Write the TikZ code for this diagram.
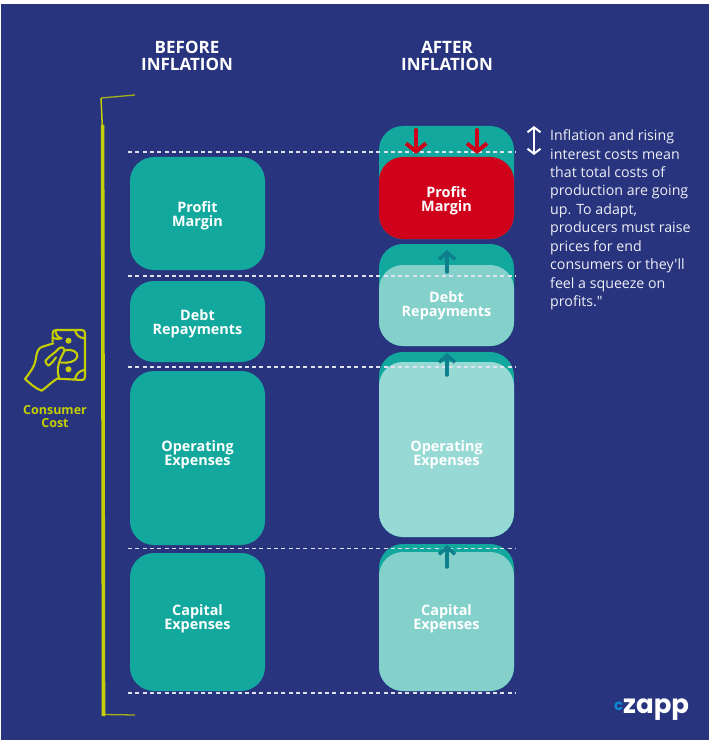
\documentclass[tikz,border=0pt]{standalone}
\usepackage{fontspec}
\usepackage{xcolor}
\usepackage{tikz}
\usetikzlibrary{arrows.meta}
\setmainfont{Open Sans}
\newfontfamily\notefont{Open Sans}
\newfontfamily\logofont{Poppins}
\definecolor{navy}{HTML}{29347F}
\definecolor{teal1}{HTML}{12A89D}
\definecolor{tealfront}{HTML}{84D1CB}
\definecolor{tealpale}{HTML}{97DAD5}
\definecolor{tealarrow}{HTML}{0E7F8C}
\definecolor{redbox}{HTML}{D0021B}
\definecolor{lime}{HTML}{C4CE00}
\tikzset{
  costbox/.style={fill=teal1, rounded corners=24pt, minimum width=135pt, inner sep=0pt},
  boxlabel/.style={text=white, align=center, inner sep=0pt, font=\bfseries\fontsize{14.4}{14}\selectfont},
  heading/.style={text=white, align=center, font=\bfseries\fontsize{17}{17}\selectfont},
  level/.style={white!85!navy, line width=1.5pt, dash pattern=on 4pt off 3.3pt},
  uparrow/.style={tealarrow, line width=3.5pt, line cap=round, -{Straight Barb[length=7pt,width=16pt]}},
  downarrow/.style={redbox, line width=4pt, line cap=round, -{Straight Barb[length=8pt,width=20pt]}},
}
\begin{document}
\begin{tikzpicture}[x=1pt,y=-1pt]
\useasboundingbox (0,0) rectangle (711,743);
\fill[navy] (1,4) rectangle (709,740);

    \node[heading] (before) at (187,56) {BEFORE\\INFLATION};
    \node[heading] (after) at (447,56) {AFTER\\INFLATION};

    % left column
    \node[costbox, minimum height=113pt] (profit) at (197.5,213.5) {};
    \node[costbox, minimum height=81pt] (debt) at (197.5,321.5) {};
    \node[costbox, minimum height=174pt] (operating) at (197.5,458) {};
    \node[costbox, minimum height=138pt] (capital) at (197.5,622) {};

    % right column, the old size behind
    \node[costbox, minimum height=113pt] (profitold) at (446.5,182.5) {};
    \node[costbox, minimum height=102pt] (debtold) at (446.5,295) {};
    \node[costbox, minimum height=185pt] (operatingold) at (446.5,444.5) {};
    \node[costbox, minimum height=147pt] (capitalold) at (446.5,617.5) {};

    % reference levels
    \coordinate (l1a) at (128,152); \coordinate (l1b) at (515,152);
    \coordinate (l2a) at (128,276); \coordinate (l2b) at (515,276);
    \coordinate (l3a) at (128,367); \coordinate (l3b) at (515,367);
    \coordinate (l4a) at (128,548.5); \coordinate (l4b) at (515,548.5);
    \coordinate (l5a) at (128,693); \coordinate (l5b) at (515,693);
    \draw[level] (l1a) -- (l1b);

    \node[costbox, fill=redbox, minimum height=82pt] (profitnew) at (446.5,198) {};
    \node[costbox, fill=tealfront, minimum height=81pt] (debtnew) at (446.5,305.5) {};
    \node[costbox, fill=tealpale, minimum height=175pt] (operatingnew) at (446.5,449.5) {};
    \node[costbox, fill=tealfront, minimum height=139pt] (capitalnew) at (446.5,621.5) {};

    \draw[level] (l2a) -- (l2b);
    \draw[level] (l3a) -- (l3b);
    \draw[level] (l4a) -- (l4b);
    \draw[level] (l5a) -- (l5b);

    % box texts
    \node[boxlabel] (t1) at (197.5,215.5) {Profit\\Margin};
    \node[boxlabel] (t2) at (197.5,323.5) {Debt\\Repayments};
    \node[boxlabel] (t3) at (197.5,454.5) {Operating\\Expenses};
    \node[boxlabel] (t4) at (197.5,618.5) {Capital\\Expenses};
    \node[boxlabel] (t5) at (446.5,200.5) {Profit\\Margin};
    \node[boxlabel] (t6) at (446.5,305.5) {Debt\\Repayments};
    \node[boxlabel] (t7) at (446.5,454.5) {Operating\\Expenses};
    \node[boxlabel] (t8) at (446.5,618.5) {Capital\\Expenses};

    % arrows
    \coordinate (d1a) at (416,130); \coordinate (d1b) at (416,154);
    \coordinate (d2a) at (477,130); \coordinate (d2b) at (477,154);
    \draw[downarrow] (d1a) -- (d1b);
    \draw[downarrow] (d2a) -- (d2b);
    \coordinate (u1a) at (447,272); \coordinate (u1b) at (447,250);
    \coordinate (u2a) at (447,375); \coordinate (u2b) at (447,353);
    \coordinate (u3a) at (447,567); \coordinate (u3b) at (447,545);
    \draw[uparrow] (u1a) -- (u1b);
    \draw[uparrow] (u2a) -- (u2b);
    \draw[uparrow] (u3a) -- (u3b);

    % squeeze note
    \coordinate (s1) at (534,126); \coordinate (s2) at (534,155);
    \draw[white, line width=2pt, {Straight Barb[length=5pt,width=13pt]}-{Straight Barb[length=5pt,width=13pt]}] (s1) -- (s2);
    \node[anchor=north west, inner sep=0pt, text=white!92!navy, align=left,
      font=\notefont\fontsize{14.2}{18.45}\selectfont] (note) at (550,129.5)
      {Inflation and rising\\interest costs mean\\that total costs of\\production are going\\up. To adapt,\\producers must raise\\prices for end\\consumers or they'll\\feel a squeeze on\\profits."};

    % bracket
    \coordinate (b1) at (135,95); \coordinate (b2) at (101,98);
    \coordinate (b3) at (104,714.5); \coordinate (b4) at (135,715);
    \draw[lime!80!navy, line width=1.3pt] (b1) -- (b2);
    \draw[lime!80!navy, line width=1.3pt] (b3) -- (b4);
    \draw[lime, line width=1.5pt] (b2) -- (102.5,130);
    \draw[lime, line width=3.6pt] (102.6,125) -- (103.5,716);

    % money in hand
    \begin{scope}[shift={(0,300)}, x=0.3333pt, y=-0.3333pt, lime, line width=2.1pt, line join=round, line cap=round]
    \draw (158,125) -- (158,100) .. controls (158,93) and (161,90) .. (168,90) -- (245,90)
      .. controls (252,90) and (255,93) .. (255,100) -- (255,230) .. controls (255,237) and (252,240) .. (245,240) -- (175,236);
    \draw (166,92) .. controls (168,105) and (174,113) .. (185,115) .. controls (172,118) and (162,116) .. (159,112);
    \draw (226,92) .. controls (228,105) and (238,113) .. (253,115);
    \draw (253,210) .. controls (238,212) and (228,222) .. (225,238);
    \draw (160,130) -- (128,140) .. controls (115,143) and (110,155) .. (107,180)
      .. controls (104,200) and (88,220) .. (75,237) .. controls (90,250) and (105,265) .. (125,272)
      .. controls (140,262) and (155,245) .. (177,233) .. controls (170,215) and (172,190) .. (192,155)
      .. controls (196,143) and (184,138) .. (176,146) .. controls (165,160) and (150,165) .. (136,183)
      .. controls (138,190) and (142,196) .. (146,197) .. controls (155,190) and (162,182) .. (168,172);
    \draw (193,152) .. controls (215,145) and (235,155) .. (232,170) .. controls (228,185) and (205,190) .. (183,188);
    \end{scope}
    \fill[lime] (68.5,340.7) circle (3pt);
    \fill[lime] (68.5,369.3) circle (3pt);
    \node[text=lime, align=center, font=\bfseries\fontsize{12.5}{13}\selectfont] (consumer) at (55,416.5) {Consumer\\Cost};

    % logo
    \node[anchor=base west, inner sep=0pt, text=white, font=\logofont\bfseries\fontsize{26}{26}\selectfont] (zapp) at (623,713) {zapp};
    \node[anchor=base east, inner sep=0pt, text=cyan!70!blue, font=\logofont\bfseries\fontsize{15}{15}\selectfont] (logoc) at (623.5,710) {c};
\end{tikzpicture}
\end{document}
